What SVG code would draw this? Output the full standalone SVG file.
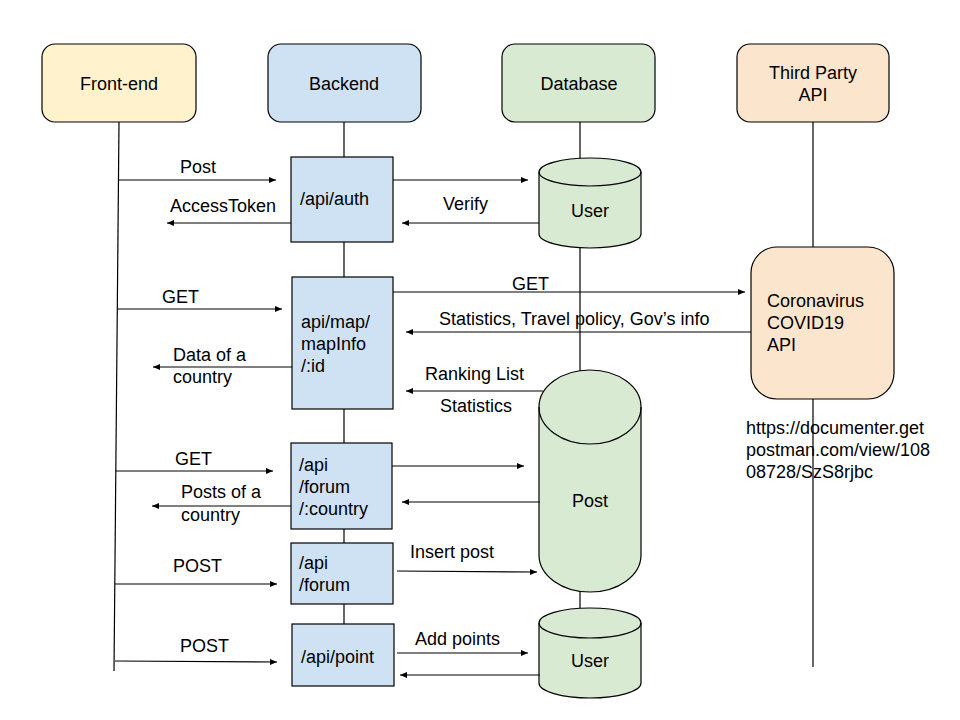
<svg xmlns="http://www.w3.org/2000/svg" width="960" height="720" viewBox="0 0 960 720">
<style>
text{font-family:"Liberation Sans",Arial,sans-serif;font-size:18px;fill:#000}
.c{text-anchor:middle}
.ln{stroke:#000;stroke-width:1.2;fill:none}
.ar{stroke:#000;stroke-width:1.2;fill:none;marker-end:url(#ah)}
.fe{fill:#fff2cc;stroke:#000;stroke-width:1.2}
.be{fill:#cfe2f3;stroke:#000;stroke-width:1.2}
.db{fill:#d9ead3;stroke:#000;stroke-width:1.2}
.tp{fill:#fce5cd;stroke:#000;stroke-width:1.2}
</style>
<defs>
<marker id="ah" markerUnits="userSpaceOnUse" markerWidth="8" markerHeight="8" refX="7" refY="4" orient="auto">
<path d="M0,1 L7,4 L0,7 Z" fill="#000"/>
</marker>
</defs>
<rect width="960" height="720" fill="#fff"/>
<g id="lifelines">
<line class="ln" x1="119" y1="122" x2="114" y2="671"/>
<line class="ln" x1="344" y1="122" x2="344" y2="624"/>
<line class="ln" x1="580" y1="122" x2="580" y2="608"/>
<line class="ln" x1="813" y1="122" x2="813" y2="667"/>
</g>
<g id="frontend"><rect class="fe" x="42" y="44" width="154" height="78" rx="13"/><text class="c" x="119" y="90">Front-end</text></g>
<g id="backend"><rect class="be" x="268" y="44" width="153" height="78" rx="13"/><text class="c" x="344" y="90">Backend</text></g>
<g id="database"><rect class="db" x="502" y="44" width="153" height="78" rx="13"/><text class="c" x="579" y="90">Database</text></g>
<g id="thirdparty"><rect class="tp" x="737" y="44" width="152" height="78" rx="13"/><text class="c" x="813" y="79">Third Party</text><text class="c" x="813" y="101">API</text></g>
<g id="auth"><rect class="be" x="291" y="157" width="102" height="85"/><text x="300" y="205">/api/auth</text></g>
<g id="map"><rect class="be" x="292" y="277" width="101" height="132"/><text x="301" y="328">api/map/</text><text x="301" y="350">mapInfo</text><text x="301" y="372">/:id</text></g>
<g id="forumcountry"><rect class="be" x="291" y="443" width="101" height="86"/><text x="299" y="471">/api</text><text x="299" y="493">/forum</text><text x="299" y="515">/:country</text></g>
<g id="forum"><rect class="be" x="291" y="543" width="102" height="61"/><text x="299" y="569">/api</text><text x="299" y="591">/forum</text></g>
<g id="point"><rect class="be" x="292" y="624" width="102" height="62"/><text x="301" y="663">/api/point</text></g>
<g id="user1"><path class="db" d="M539,172 L539,234 A51,14 0 0 0 641,234 L641,172 A51,14 0 0 0 539,172 Z"/><path class="ln" d="M539,172 A51,14 0 0 0 641,172"/><text class="c" x="590" y="217">User</text></g>
<g id="post"><path class="db" d="M539,407 L539,555 A51,37 0 0 0 641,555 L641,407 A51,37 0 0 0 539,407 Z"/><path class="ln" d="M539,407 A51,37 0 0 0 641,407"/><text class="c" x="590" y="507">Post</text></g>
<g id="user2"><path class="db" d="M539,623 L539,683 A51,15 0 0 0 641,683 L641,623 A51,15 0 0 0 539,623 Z"/><path class="ln" d="M539,623 A51,15 0 0 0 641,623"/><text class="c" x="590" y="667">User</text></g>
<g id="covid"><rect class="tp" x="751" y="247" width="143" height="152" rx="26"/><text x="767" y="307">Coronavirus</text><text x="767" y="329">COVID19</text><text x="767" y="351">API</text></g>
<g id="url"><text x="746" y="434">https://documenter.get</text><text x="746" y="456">postman.com/view/108</text><text x="746" y="478">08728/SzS8rjbc</text></g>
<g id="connectors">
<line class="ar" x1="119" y1="180" x2="276" y2="180"/>
<line class="ar" x1="291" y1="223" x2="167" y2="223"/>
<line class="ar" x1="393" y1="180" x2="528" y2="180"/>
<line class="ar" x1="539" y1="223" x2="402" y2="223"/>
<line class="ar" x1="117" y1="309" x2="282" y2="309"/>
<line class="ar" x1="393" y1="292" x2="745" y2="292"/>
<line class="ar" x1="751" y1="332" x2="406" y2="332"/>
<line class="ar" x1="292" y1="367" x2="153" y2="367"/>
<line class="ar" x1="543" y1="391" x2="406" y2="391"/>
<line class="ar" x1="116" y1="471" x2="273" y2="471"/>
<line class="ar" x1="392" y1="466" x2="524" y2="466"/>
<line class="ar" x1="540" y1="502" x2="402" y2="502"/>
<line class="ar" x1="291" y1="506" x2="152" y2="506"/>
<line class="ar" x1="115" y1="584" x2="277" y2="584"/>
<line class="ar" x1="397" y1="571" x2="537" y2="572"/>
<line class="ar" x1="115" y1="661" x2="277" y2="662"/>
<line class="ar" x1="397" y1="653" x2="528" y2="653"/>
<line class="ar" x1="540" y1="675" x2="400" y2="675"/>
</g>
<g id="labels">
<text x="180" y="173">Post</text>
<text x="170" y="212">AccessToken</text>
<text x="443" y="210">Verify</text>
<text x="162" y="303">GET</text>
<text x="512" y="290">GET</text>
<text x="439" y="325">Statistics, Travel policy, Gov’s info</text>
<text x="173" y="361">Data of a</text>
<text x="173" y="383">country</text>
<text x="425" y="380">Ranking List</text>
<text x="440" y="412">Statistics</text>
<text x="175" y="465">GET</text>
<text x="181" y="498">Posts of a</text>
<text x="181" y="521">country</text>
<text x="173" y="572">POST</text>
<text x="410" y="558">Insert post</text>
<text x="180" y="652">POST</text>
<text x="415" y="645">Add points</text>
</g>
</svg>
